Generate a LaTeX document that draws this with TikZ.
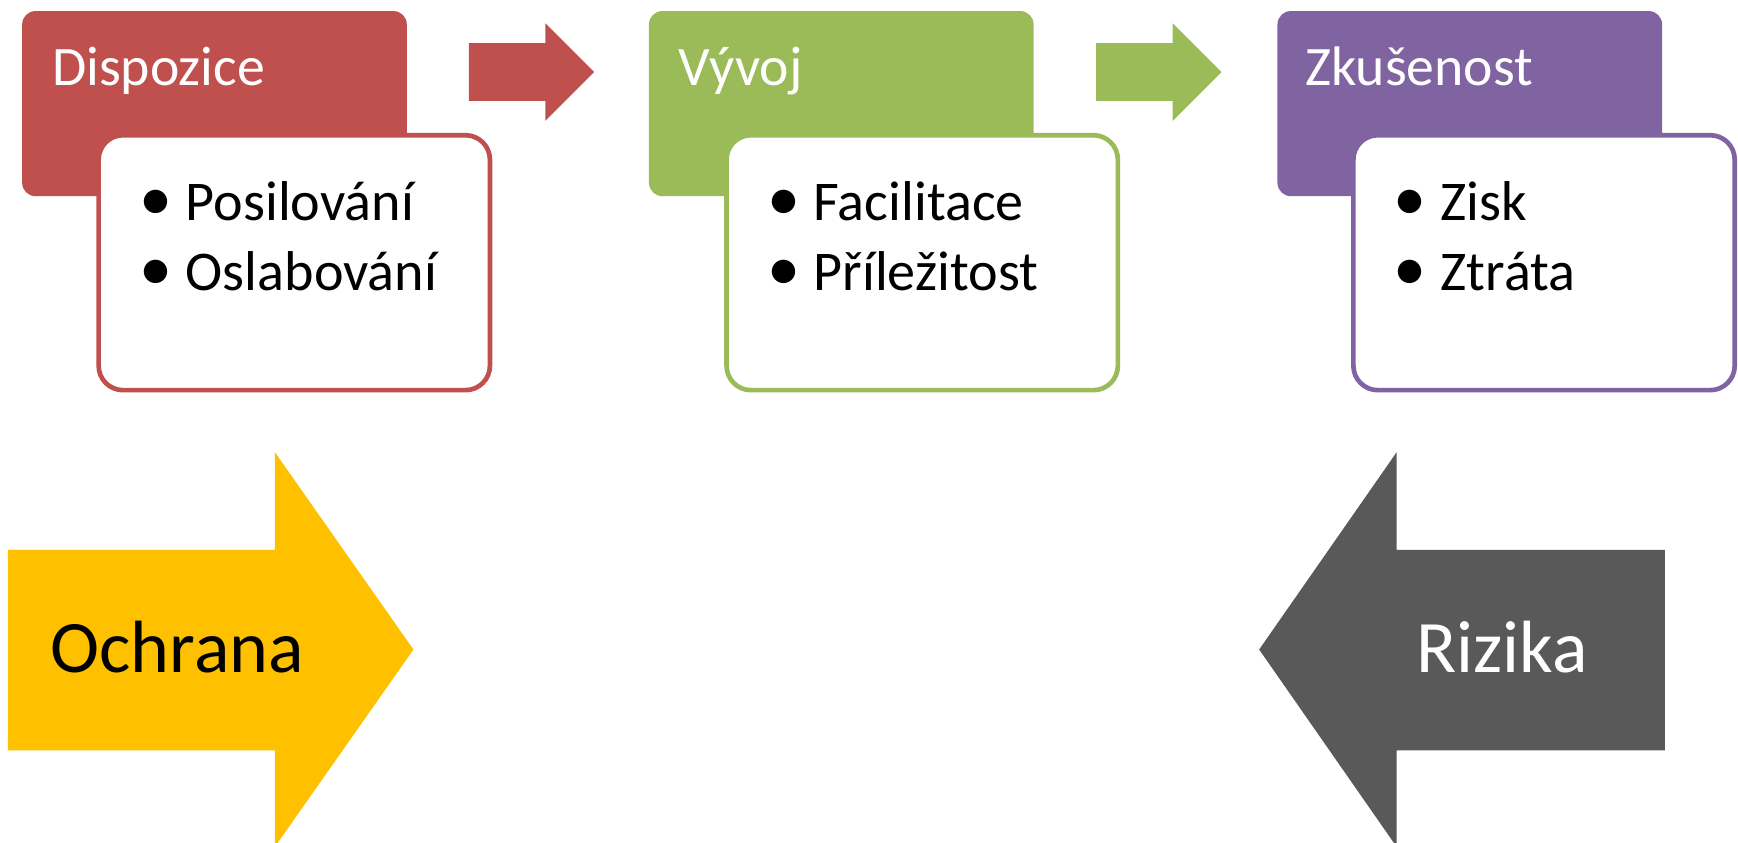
\documentclass[tikz,border=0pt]{standalone}
\usepackage{fontspec}
\setmainfont{Carlito}

\definecolor{dispored}{HTML}{C0504D}
\definecolor{vyvojgreen}{HTML}{9BBB59}
\definecolor{zkuspurple}{HTML}{8064A2}
\definecolor{ochranayellow}{HTML}{FFC000}
\definecolor{rizikagrey}{HTML}{595959}

\tikzset{
  headbox/.style={rounded corners=0.12cm, minimum width=3.47cm, minimum height=1.67cm, inner sep=0pt},
  itembox/.style={draw, fill=white, line width=1.2pt, rounded corners=0.22cm, minimum width=3.53cm, minimum height=2.30cm, inner sep=0pt},
  headtext/.style={anchor=base west, text=white, font=\fontsize{14.3}{17}\selectfont, inner sep=0pt},
  itemtext/.style={anchor=base west, font=\fontsize{14.4}{17}\selectfont, inner sep=0pt},
  bigtext/.style={anchor=base west, font=\fontsize{19}{23}\selectfont, inner sep=0pt}
}
\newcommand{\bitem}[1]{\makebox[0.42cm][l]{{\fontsize{17}{17}\selectfont\textbullet}}#1}

\begin{document}
\begin{tikzpicture}

  \useasboundingbox (0,0) rectangle (15.68,-7.60);

  % --- Dispozice (red) ---
  \node[headbox, fill=dispored] (dispo) at (1.935,-0.935) {};
  \node[headtext] (dispotext) at ([xshift=0.27cm, yshift=-0.68cm]dispo.north west) {Dispozice};
  \node[itembox, draw=dispored] (dispobox) at (2.655,-2.37) {};
  \node[itemtext] (posil) at ([xshift=0.38cm, yshift=-0.79cm]dispobox.north west) {\bitem{Posilování}};
  \node[itemtext] (oslab) at ([yshift=-0.63cm]posil.base west) {\bitem{Oslabování}};

  % --- Vyvoj (green) ---
  \node[headbox, fill=vyvojgreen] (vyvoj) at (7.59,-0.935) {};
  \node[headtext] (vyvojtext) at ([xshift=0.27cm, yshift=-0.68cm]vyvoj.north west) {Vývoj};
  \node[itembox, draw=vyvojgreen] (vyvojbox) at (8.32,-2.37) {};
  \node[itemtext] (facil) at ([xshift=0.38cm, yshift=-0.79cm]vyvojbox.north west) {\bitem{Facilitace}};
  \node[itemtext] (prilez) at ([yshift=-0.63cm]facil.base west) {\bitem{Příležitost}};

  % --- Zkusenost (purple) ---
  \node[headbox, fill=zkuspurple] (zkus) at (13.26,-0.935) {};
  \node[headtext] (zkustext) at ([xshift=0.25cm, yshift=-0.68cm]zkus.north west) {Zkušenost};
  \node[itembox, draw=zkuspurple, minimum width=3.44cm] (zkusbox) at (13.93,-2.37) {};
  \node[itemtext] (zisk) at ([xshift=0.38cm, yshift=-0.79cm]zkusbox.north west) {\bitem{Zisk}};
  \node[itemtext] (ztrata) at ([yshift=-0.63cm]zisk.base west) {\bitem{Ztráta}};

  % --- Small arrows between the groups ---
  \fill[dispored]
    (4.23,-0.39) -- (4.92,-0.39) -- (4.92,-0.21) -- (5.36,-0.65)
    -- (4.92,-1.09) -- (4.92,-0.91) -- (4.23,-0.91) -- cycle;
  \fill[vyvojgreen]
    (9.89,-0.39) -- (10.58,-0.39) -- (10.58,-0.21) -- (11.02,-0.65)
    -- (10.58,-1.09) -- (10.58,-0.91) -- (9.89,-0.91) -- cycle;

  % --- Ochrana arrow (yellow, pointing right) ---
  \fill[ochranayellow]
    (0.07,-4.96) -- (2.48,-4.96) -- (2.48,-4.08) -- (3.73,-5.86)
    -- (2.48,-7.64) -- (2.48,-6.77) -- (0.07,-6.77) -- cycle;
  \node[bigtext] (ochrana) at (0.45,-6.07) {Ochrana};

  % --- Rizika arrow (grey, pointing left) ---
  \fill[rizikagrey]
    (15.02,-4.96) -- (12.60,-4.96) -- (12.60,-4.08) -- (11.36,-5.86)
    -- (12.60,-7.64) -- (12.60,-6.77) -- (15.02,-6.77) -- cycle;
  \node[bigtext, text=white] (rizika) at (12.77,-6.07) {Rizika};

\end{tikzpicture}
\end{document}
